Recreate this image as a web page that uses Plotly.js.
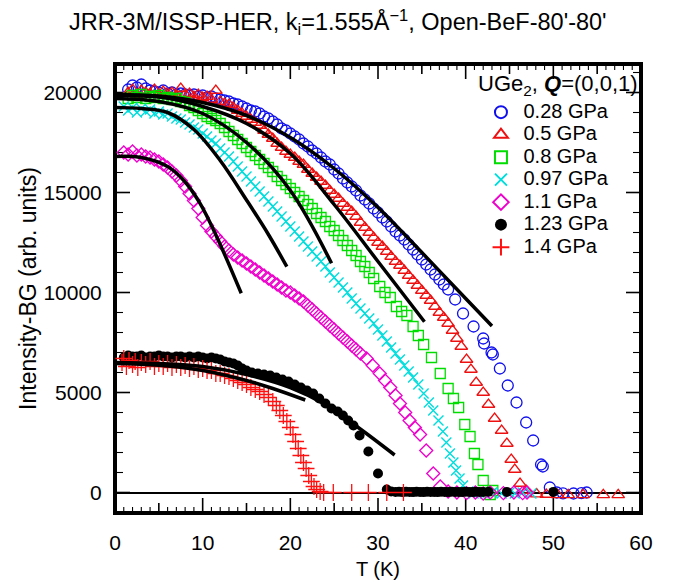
<!DOCTYPE html>
<html>
<head>
<meta charset="utf-8">
<script src="https://cdn.plot.ly/plotly-3.0.1.min.js"></script>
<style>html,body{margin:0;padding:0;background:#fff;}#plot{width:673px;height:586px;}</style>
</head>
<body>
<div id="plot"></div>
<script>
// ---- data ----
var seriesNames = ["0.28 GPa", "0.5 GPa", "0.8 GPa", "0.97 GPa", "1.1 GPa", "1.23 GPa", "1.4 GPa"];

var T_028 = [1.5,2,2.5,3,3.5,4,4.5,5,5.5,6,6.5,7,7.5,8,8.5,9,9.5,10,10.5,11,11.5,12,12.5,13,13.5,14,14.5,15,15.5,16,16.5,17,17.5,18,18.5,19,19.5,20,20.5,21,21.5,22,22.5,23,23.5,24,24.5,25,25.5,26,26.5,27,27.5,28,28.5,29,29.5,30,30.5,31,31.5,32,32.5,33,33.5,34,34.5,35,35.5,36,36.5,37,37.5,38,38.8,39.7,40.9,42,42.1,42.95,43.1,43.9,44.8,45.8,46.9,47.7,48.6,48.8,49.6,50.4,51.1,52.3,53.2,53.8];
var I_028 = [20150,20350,20250,20400,20200,20100,20050,20000,20100,19950,20000,19900,19950,19900,19850,19900,19800,19850,19750,19800,19700,19650,19600,19550,19450,19400,19300,19200,19100,19050,18950,18800,18700,18550,18400,18200,18100,17950,17800,17650,17450,17300,17100,16950,16750,16550,16400,16150,15950,15700,15500,15300,15100,14850,14650,14450,14200,14000,13750,13550,13300,13050,12850,12650,12400,12150,11900,11650,11400,11150,10900,10650,10400,10150,9650,8950,8300,7700,7450,7000,6900,6200,5350,4500,3500,2600,1400,1300,250,0,-40,-50,-30,0];

var T_05 = [1.5,2,2.5,3,3.5,4,4.5,5,5.5,6,6.5,7,7.5,8,8.5,9,9.5,10,10.5,11,11.5,12,12.5,13,13.5,14,14.5,15,15.5,16,16.5,17,17.5,18,18.5,19,19.5,20,20.5,21,21.5,22,22.5,23,23.5,24,24.5,25,25.5,26,26.5,27,27.5,28,28.5,29,29.5,30,30.5,31,31.5,32,32.5,33,33.5,34,34.5,35,35.5,36,36.5,37,37.5,38,38.5,39,39.5,40.1,40.6,41.2,42,42.6,43.3,44.1,44.7,45.2,45.6,46.2,46.9,48.1,49.2,50.5,51.7,53.4,55.7,57.4];
var I_05 = [20000,20150,19900,20100,20000,19950,20150,19900,20050,19950,20000,19850,20200,19900,19950,19800,19900,19750,19800,19650,20100,19550,19450,19400,19250,19100,18950,18800,18650,18500,18350,18100,17900,17700,17450,17250,17050,16900,16750,16550,16400,16150,15950,15750,15550,15350,15100,14900,14700,14450,14250,14050,13800,13500,13250,13000,12750,12500,12300,12050,11800,11550,11350,11100,10850,10600,10350,10100,9850,9600,9300,9000,8750,8450,8100,7700,7300,6650,6150,5500,5000,4400,3700,3100,2450,1650,1150,450,100,-80,-100,-120,-120,-120,-120,-120];

var T_08 = [1.5,2,2.5,3,3.5,4,4.5,5,5.5,6,6.5,7,7.5,8,8.5,9,9.5,10,10.5,11,11.5,12,12.5,13,13.5,14,14.5,15,15.5,16,16.5,17,17.5,18,18.5,19,19.5,20,20.5,21,21.5,22,22.5,23,23.5,24,24.5,25,25.5,26,26.5,27,27.5,28,28.5,29,29.5,30.2,30.8,31.4,32.1,32.7,33.3,34,34.6,35.2,36.1,37.1,38,38.6,39.2,39.9,40.5,41,41.4,42,42.8,43.1];
var I_08 = [19700,19850,19750,19900,19700,19800,19750,19850,19700,19750,19650,19700,19550,19500,19350,19250,19100,18950,18800,18700,18600,18450,18250,18050,17850,17650,17450,17250,17050,16850,16650,16450,16250,16050,15800,15600,15400,15200,15000,14800,14600,14400,14200,13950,13750,13550,13300,13100,12850,12600,12350,12100,11850,11550,11300,11000,10700,10300,10000,9750,9300,9050,8850,8300,7850,7400,6750,5950,5200,4700,4250,3400,2800,1950,1400,600,-100,100];

var T_097 = [1,1.5,2,2.5,3,3.5,4,4.5,5,5.5,6,6.5,7,7.5,8,8.5,9,9.5,10,10.5,11,11.5,12,12.5,13,13.5,14,14.5,15,15.5,16,16.5,17,17.5,18,18.5,19,19.5,20,20.5,21,21.5,22,22.5,23,23.5,24,24.5,25,25.5,26,26.5,27,27.5,28,28.5,29,29.5,30,30.5,31,31.5,32,32.5,33,33.5,34,34.6,35.2,35.8,36.3,36.9,37.4,37.8,38.2,38.6,38.9,39.3,39.7,40.3,40.9,41.5,42.2,43,44.1,45,45.6,46.5,47.5];
var I_097 = [19300,19100,19250,19000,19200,19050,19150,18950,19050,18900,18950,18800,18700,18650,18500,18400,18250,18150,17950,17800,17600,17450,17200,17000,16800,16550,16300,16050,15800,15550,15300,15050,14800,14550,14300,14050,13800,13550,13300,13050,12800,12550,12300,12050,11800,11550,11300,11000,10750,10500,10250,10000,9700,9450,9200,8950,8700,8450,8150,7850,7550,7250,6950,6650,6350,6050,5750,5400,4950,4500,4100,3600,3050,2500,1950,1500,1100,700,350,50,-50,0,-50,0,-50,0,-50,0,-50];

var T_11 = [1,1.5,2,2.5,3,3.5,4,4.5,5,5.5,6,6.5,7,7.5,8,8.5,9,9.5,10,10.5,11,11.5,12,12.5,13,13.5,14,14.5,15,15.5,16,16.5,17,17.5,18,18.5,19,19.5,20,20.5,21,21.5,22,22.5,23,23.5,24,24.5,25,25.5,26,26.5,27,27.5,28,28.7,29.4,30.2,30.8,31.4,32,32.5,33.1,33.6,34.2,34.8,35.5,36.3,37.1,38,39,40.1,41.1,42,42.8,44.3,45.5,46.5,47];
var I_11 = [17000,16900,17050,16850,16900,16800,16750,16650,16550,16400,16250,16050,15850,15600,15300,14950,14600,14200,13750,13350,13050,12800,12550,12300,12100,11900,11750,11600,11450,11300,11150,11000,10850,10700,10550,10400,10250,10100,10000,9850,9700,9550,9350,9150,8950,8750,8550,8350,8150,7950,7750,7550,7350,7150,6950,6700,6350,5950,5600,5250,4850,4450,4000,3600,3250,2900,2100,950,300,50,0,-30,0,-50,0,-30,0,-30,0];

var T_123 = [1,1.5,2,2.5,3,3.5,4,4.5,5,5.5,6,6.5,7,7.5,8,8.5,9,9.5,10,10.5,11,11.5,12,12.5,13,13.5,14,14.5,15,15.6,16.3,17,17.7,18.4,19.1,19.8,20.5,21.2,21.9,22.6,23.3,24,24.7,25.4,26,26.6,27.2,27.9,28.9,30,31,31.5,32,32.4,32.8,33.2,33.6,34,34.4,34.8,35.2,35.6,36,36.4,36.8,37.2,37.6,38,38.4,38.8,39.2,39.6,40,40.4,40.8,41.2,41.6,42,42.6,44.7,50];
var I_123 = [6750,6850,6800,6800,6850,6750,6800,6800,6850,6800,6800,6750,6800,6800,6750,6800,6750,6800,6750,6700,6750,6700,6650,6550,6500,6450,6350,6200,6100,6000,5950,5900,5850,5750,5650,5550,5400,5250,5100,4950,4700,4450,4200,4050,3850,3600,3350,2850,2050,950,150,50,30,40,20,40,30,20,40,30,20,40,30,30,20,40,30,20,40,30,30,20,40,30,20,40,30,30,40,30,30];

var T_14 = [0.8,1,1.3,1.6,2,2.3,2.6,3,3.5,4,4.5,5,5.5,6,6.5,7,7.5,8,8.5,9,9.5,10,10.5,11,11.5,12,12.5,13,13.5,14,14.5,15,15.5,16,16.5,17,17.5,18,18.4,18.8,19.2,19.6,20,20.3,20.6,20.9,21.2,21.5,21.8,22.1,22.4,22.7,23,23.4,23.8,24.9,27,28.9,31,32.9];
var I_14 = [6500,6700,6300,6600,6400,6550,6250,6500,6400,6550,6300,6450,6300,6450,6250,6400,6250,6350,6200,6300,6150,6200,6100,6100,5950,5950,5850,5800,5700,5600,5500,5400,5250,5150,5050,4900,4750,4550,4350,4100,3850,3550,3250,2900,2550,2200,1850,1500,1200,850,550,300,150,50,0,0,0,0,0,0];

// fitted curves (black lines)
var fitT_028 = [0,5,10,15,20,25,30,35,40,43];
var fitI_028 = [19900,19820,19500,18850,17750,16200,14250,12000,9700,8325];
var fitT_05 = [0,5,10,15,20,25,30,35.3];
var fitI_05 = [19850,19770,19300,18450,16950,14400,11550,8540];
var fitT_08 = [0,5,10,15,20,24.7];
var fitI_08 = [19700,19550,18950,17500,15100,11460];
var fitT_097 = [0,3,6,9,12,15,17.5,19.6];
var fitI_097 = [19250,19200,19000,18150,16600,14625,12900,11290];
var fitT_11 = [0,3,6,7.8,9.7,11.6,14.4];
var fitI_11 = [16800,16750,16300,15625,14460,12790,9960];
var fitT_123 = [0,5,10,15,20,24,27.9,31.9];
var fitI_123 = [6500,6450,6300,5900,5250,4400,3200,1875];
var fitT_14 = [0,5,10,15,18,21.7];
var fitI_14 = [6450,6360,6100,5600,5200,4625];

// axes
var xTickVals = [0,10,20,30,40,50,60];
var xTickText = ["0","10","20","30","40","50","60"];
var yTickVals = [0,5000,10000,15000,20000];
var yTickText = ["0","5000","10000","15000","20000"];
var xRange = [0, 60];
var yRange = [-1025, 21425];
var xMinorStep = 1, xMidStep = 5, xMajorStep = 10;
var yMinorStep = 1000, yMajorStep = 5000, yMinorTop = 21000;

// ---- layout geometry / styles ----
var W = 673, H = 586, M = {l: 115, r: 32, t: 64, b: 73};
var PLOT_W = W - M.l - M.r, PLOT_H = H - M.t - M.b;
var xPerPx = (xRange[1] - xRange[0]) / PLOT_W;
var yPerPx = (yRange[1] - yRange[0]) / PLOT_H;
var FONT = "Liberation Sans, Arial, Helvetica, sans-serif";
function big(s, px) { return '<span style="font-size:' + px + 'px">' + s + '</span>'; }
function pts(x, y, name, symbol, color, size, lw) {
  return {x: x, y: y, name: big(name, 20), type: "scatter", mode: "markers",
    marker: {symbol: symbol, color: color, size: size, line: {color: color, width: lw}}};
}
function fit(x, y) {
  return {x: x, y: y, type: "scatter", mode: "lines", showlegend: false, hoverinfo: "skip",
    line: {color: "black", width: 3.5, shape: "spline"}};
}
function deco(x, y, width) {
  return {x: x, y: y, type: "scatter", mode: "lines", showlegend: false, hoverinfo: "skip",
    line: {color: "black", width: width}};
}

// inside tick marks on all four sides, as short line segments placed through the axis scales
var majX = [], majY = [], minX = [], minY = [];
function seg(ax, ay, x0, y0, x1, y1) { ax.push(x0, x1, null); ay.push(y0, y1, null); }
for (var t = xRange[0]; t <= xRange[1] + 1e-9; t += xMinorStep) {
  var isMaj = Math.abs(t % xMajorStep) < 1e-9, isMid = Math.abs(t % xMidStep) < 1e-9;
  var lenY = (isMaj ? 15 : (isMid ? 10 : 6)) * yPerPx;
  var tx = isMid ? majX : minX, ty = isMid ? majY : minY;
  seg(tx, ty, t, yRange[0], t, yRange[0] + lenY);
  seg(tx, ty, t, yRange[1], t, yRange[1] - lenY);
}
for (var v = 0; v <= yMinorTop; v += yMinorStep) {
  var isMajY = (v % yMajorStep) === 0;
  var lenX = (isMajY ? 15 : 8) * xPerPx;
  var ux = isMajY ? majX : minX, uy = isMajY ? majY : minY;
  seg(ux, uy, xRange[0], v, xRange[0] + lenX, v);
  seg(ux, uy, xRange[1], v, xRange[1] - lenX, v);
}

var traces = [
  deco([xRange[0], xRange[1], xRange[1], xRange[0], xRange[0]],
       [yRange[0], yRange[0], yRange[1], yRange[1], yRange[0]], 4),
  deco(minX, minY, 1.1),
  deco(majX, majY, 1.6),
  pts(T_028, I_028, seriesNames[0], "circle-open", "#1010ee", 11, 1.3),
  pts(T_05, I_05, seriesNames[1], "triangle-up-open", "#ee1010", 11, 1.3),
  pts(T_08, I_08, seriesNames[2], "square-open", "#00dd00", 10, 1.3),
  pts(T_097, I_097, seriesNames[3], "x-thin-open", "#00dddd", 10, 1.4),
  pts(T_11, I_11, seriesNames[4], "diamond-open", "#ee00cc", 10, 1.3),
  pts(T_123, I_123, seriesNames[5], "circle", "#000000", 10, 0),
  pts(T_14, I_14, seriesNames[6], "cross-thin-open", "#ff1010", 12, 1.3),
  fit(fitT_028, fitI_028), fit(fitT_05, fitI_05), fit(fitT_08, fitI_08),
  fit(fitT_097, fitI_097), fit(fitT_11, fitI_11), fit(fitT_123, fitI_123), fit(fitT_14, fitI_14)
];

var layout = {
  width: W, height: H, margin: M,
  font: {family: FONT, size: 18, color: "#000000"},
  title: {text: "JRR-3M/ISSP-HER, k<sub>i</sub>=1.555Å<sup>−1</sup>, Open-BeF-80'-80'",
    font: {family: FONT, size: 23.5, color: "#000000"}, xref: "container", x: 0.502, xanchor: "center",
    yref: "container", y: 0.962, yanchor: "middle"},
  xaxis: {range: xRange, tickmode: "array", tickvals: xTickVals, ticktext: xTickText,
    ticks: "", showline: true, linecolor: "#000000", linewidth: 2, mirror: true,
    showgrid: false, zeroline: false, ticklabelstandoff: 10,
    tickfont: {family: FONT, size: 21},
    title: {text: "T (K)", font: {family: FONT, size: 20}, standoff: 9}},
  yaxis: {range: yRange, tickmode: "array", tickvals: yTickVals, ticktext: yTickText,
    ticks: "", showline: true, linecolor: "#000000", linewidth: 2, mirror: true, showgrid: false,
    zeroline: true, zerolinecolor: "#000000", zerolinewidth: 1.5,
    ticklabelstandoff: 7, tickfont: {family: FONT, size: 21},
    title: {text: "Intensity-BG (arb. units)", font: {family: FONT, size: 23}, standoff: 0}},
  legend: {x: 0.691, xanchor: "left", y: 0.929, yanchor: "top", bgcolor: "rgba(0,0,0,0)",
    borderwidth: 0, font: {family: FONT, size: 15}, itemsizing: "constant", itemwidth: 35},
  annotations: [{text: "UGe<sub>2</sub>, <b><i>Q</i></b>=(0,0,1)", xref: "paper", yref: "paper",
    x: 0.998, xanchor: "right", y: 1 - (85 - M.t) / PLOT_H, yanchor: "middle", showarrow: false,
    font: {family: FONT, size: 22, color: "#000000"}}],
  showlegend: true
};

Plotly.newPlot("plot", traces, layout, {displayModeBar: false});
</script>
</body>
</html>
